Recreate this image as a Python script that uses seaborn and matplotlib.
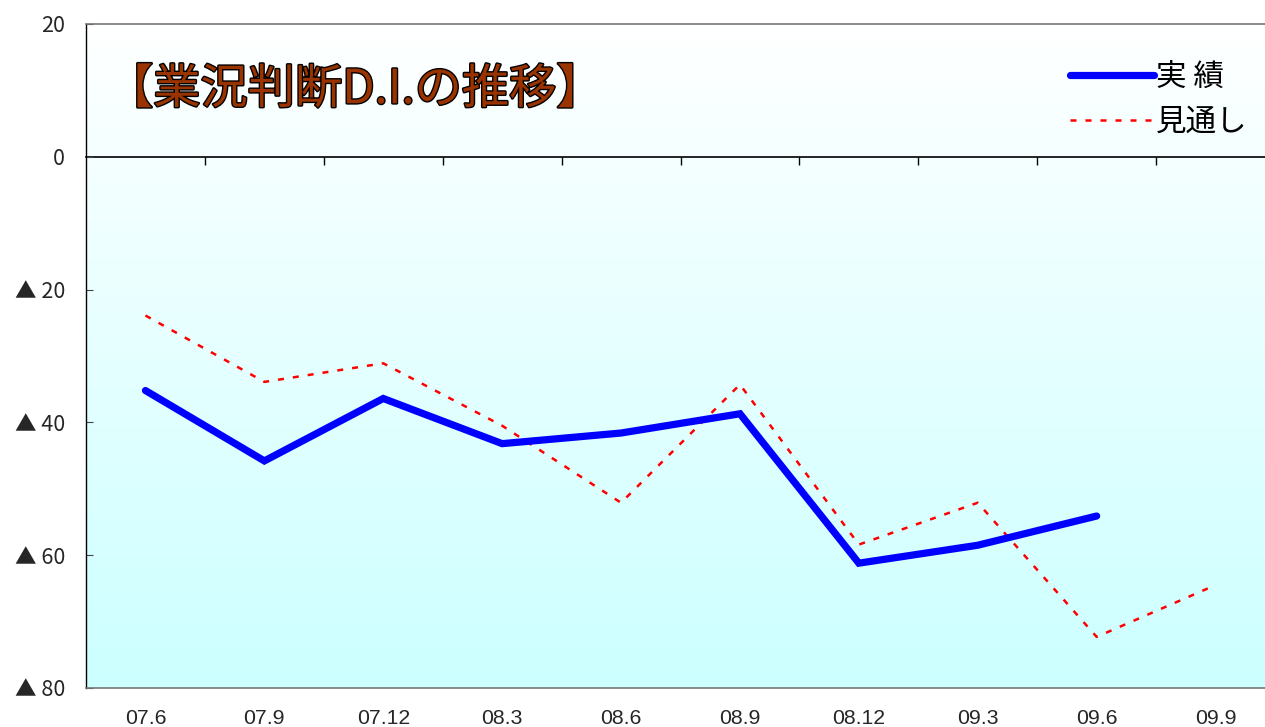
import numpy as np
import pandas as pd
import matplotlib
matplotlib.use("Agg")
import matplotlib.pyplot as plt
import matplotlib.patheffects as pe
import seaborn as sns

periods = ["07.6", "07.9", "07.12", "08.3", "08.6", "08.9", "08.12", "09.3", "09.6", "09.9"]
actual = [-35.2, -45.8, -36.4, -43.2, -41.6, -38.7, -61.2, -58.5, -54.1]
forecast = [-23.9, -33.9, -31.1, -40.5, -52.1, -34.3, -58.4, -52.1, -72.3, -64.5]
yticks = [20, 0, -20, -40, -60, -80]
ytick_labels = ["20", "0", "▲ 20", "▲ 40", "▲ 60", "▲ 80"]
title = "【業況判断D.I.の推移】"
label_actual = "実 績"
label_forecast = "見通し"

sns.set_theme(style="white")
plt.rcParams["font.family"] = ["Liberation Sans", "DejaVu Sans"]

W, H = 1265, 727
fig = plt.figure(figsize=(W / 100, H / 100), dpi=100)
fig.patch.set_facecolor("white")
left, right, top, bottom = 86, 1275, 24, 688
aw, ah = right - left, bottom - top
ax = fig.add_axes([left / W, 1 - bottom / H, aw / W, ah / H])

# gradient background
grad = np.linspace(0, 1, 256).reshape(-1, 1)
c_top = np.array([1.0, 1.0, 1.0])
c_bot = np.array([204, 255, 255]) / 255
img = c_top[None, None, :] * (1 - grad[:, :, None]) + c_bot[None, None, :] * grad[:, :, None]
ax.imshow(img, extent=[0, 1, 0, 1], transform=ax.transAxes, aspect="auto", zorder=0)

df_a = pd.DataFrame({"period": periods[:len(actual)], "value": actual})
df_f = pd.DataFrame({"period": periods[:len(forecast)], "value": forecast})

sns.lineplot(data=df_a, x="period", y="value", ax=ax, color="#0000FF", linewidth=5.2,
             solid_capstyle="round", solid_joinstyle="miter", label=label_actual, zorder=3, sort=False)
sns.lineplot(data=df_f, x="period", y="value", ax=ax, color="#FF0000", linewidth=1.8,
             dashes=False, label=label_forecast, zorder=2, sort=False)
ax.lines[-1].set_dashes((2.4, 3.6))

ax.set_xlim(-0.5, len(periods) - 0.5)
ax.set_ylim(-80, 20)
ax.set_xlabel("")
ax.set_ylabel("")
ax.set_yticks(yticks)
ax.set_yticklabels(ytick_labels, fontsize=15.5, family=["Noto Sans CJK JP", "DejaVu Sans"])
ax.tick_params(axis="y", direction="in", length=5, width=0.8, color="#444444", pad=15, left=True)
ax.set_xticks(range(len(periods)))
ax.set_xticklabels(periods, fontsize=15.3)
ax.tick_params(axis="x", length=0, pad=15)

for s in ["top", "right", "bottom"]:
    ax.spines[s].set_color("#777777")
    ax.spines[s].set_linewidth(1.2)
ax.spines["left"].set_color("black")
ax.spines["left"].set_linewidth(1.0)

# zero axis with category-boundary ticks
sec = ax.secondary_xaxis((0 - (-80)) / 100.0)
sec.set_xticks(np.arange(0.5, len(periods) - 1, 1.0))
sec.tick_params(axis="x", direction="in", length=6, width=1.0, labelbottom=False, labeltop=False,
                top=True, bottom=False, color="black")
sec.spines["bottom"].set_color("black")
sec.spines["top"].set_color("black")
sec.spines["bottom"].set_linewidth(1.2)
sec.spines["top"].set_linewidth(1.2)

ax.text((106 - left) / aw, (bottom - 90) / ah, title,
        transform=ax.transAxes, fontsize=34, fontweight="normal", color="#993300",
        family=["Noto Sans CJK JP", "DejaVu Sans"], va="center", ha="left", zorder=5,
        path_effects=[pe.Stroke(linewidth=2.0, foreground="black"), pe.Normal()])

leg = ax.legend(loc="upper right", bbox_to_anchor=((1247 - left) / aw, (bottom - 62) / ah),
                frameon=False, handlelength=2.75, handletextpad=0.05, labelspacing=0.45,
                prop={"family": ["Noto Sans CJK JP", "DejaVu Sans"], "size": 22},
                borderaxespad=0, borderpad=0)
for t in leg.get_texts():
    t.set_color("black")

fig.savefig("out.png", dpi=100, facecolor="white")
